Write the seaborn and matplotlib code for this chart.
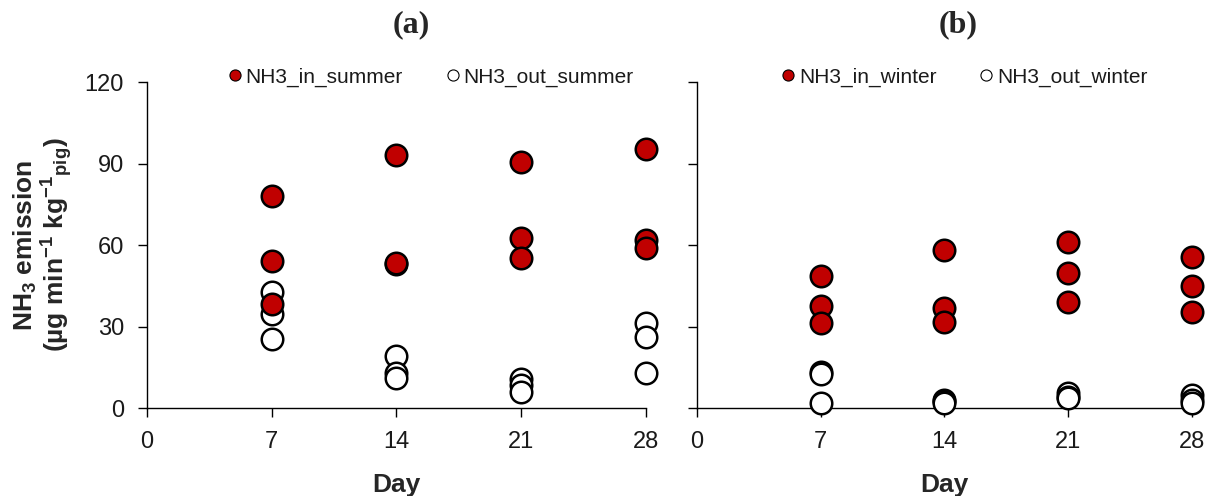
import numpy as np
import pandas as pd
import matplotlib
matplotlib.use("Agg")
import matplotlib.pyplot as plt
import seaborn as sns
from matplotlib.lines import Line2D

sns.set_theme(style="white")
plt.rcParams['font.family'] = ['Liberation Sans', 'DejaVu Sans']
plt.rcParams['mathtext.default'] = 'regular'

days = [7, 14, 21, 28]
# three replicate measurements per day
in_summer = [[78.1, 54.2, 38.5], [93.1, 53.0, 53.5], [90.7, 62.7, 55.1], [95.2, 61.8, 58.8]]
out_summer = [[42.8, 34.8, 25.4], [19.3, 12.8, 11.3], [10.9, 8.5, 6.0], [31.4, 26.2, 13.1]]
in_winter = [[48.6, 37.7, 31.3], [58.2, 36.8, 31.9], [61.1, 49.9, 39.0], [55.5, 45.0, 35.5]]
out_winter = [[13.4, 12.6, 1.8], [2.9, 2.7, 2.1], [5.8, 4.3, 3.7], [5.0, 3.1, 1.9]]

panel_titles = ["(a)", "(b)"]
series_names = [["NH3_in_summer", "NH3_out_summer"], ["NH3_in_winter", "NH3_out_winter"]]
x_ticks = [0, 7, 14, 21, 28]
y_ticks = [0, 30, 60, 90, 120]

def long_form(vals, name):
    rows = []
    for d, reps in zip(days, vals):
        for v in reps:
            rows.append({"Day": d, "value": v, "series": name})
    return rows

RED = "#C00000"
fig = plt.figure(figsize=(12.14, 4.96), dpi=100)
axA = fig.add_axes([147/1214, (496-408.3)/496, (645.7-147)/1214, 326.3/496])
axB = fig.add_axes([697/1214, (496-408.3)/496, (1191.7-697)/1214, 326.3/496])

legend_x = [0.568, 0.539]
panels = [(axA, in_summer, out_summer), (axB, in_winter, out_winter)]
for i, (ax, vin, vout) in enumerate(panels):
    nin, nout = series_names[i]
    df = pd.DataFrame(long_form(vin, nin) + long_form(vout, nout))
    sns.scatterplot(data=df[df.series == nout], x="Day", y="value", ax=ax,
                    s=240, color="white", edgecolor="black", linewidth=1.8,
                    legend=False, zorder=3, clip_on=False)
    sns.scatterplot(data=df[df.series == nin], x="Day", y="value", ax=ax,
                    s=240, color=RED, edgecolor="black", linewidth=1.8,
                    legend=False, zorder=4, clip_on=False)
    ax.set_xlim(0, 28)
    ax.set_ylim(0, 120)
    ax.set_xticks(x_ticks)
    ax.set_yticks(y_ticks)
    for side in ["top", "right"]:
        ax.spines[side].set_visible(False)
    for side in ["left", "bottom"]:
        ax.spines[side].set_color("black")
        ax.spines[side].set_linewidth(1.0)
    ax.tick_params(axis="both", which="major", bottom=True, left=True,
                   direction="out", length=6.5, width=1.0,
                   color="black", labelsize=17, labelcolor="#1a1a1a", pad=10)
    ax.set_xlabel("Day", fontsize=19, fontweight="bold", labelpad=14)
    if i == 1:
        ax.tick_params(axis="y", labelleft=False)
        ax.set_ylabel("")
    else:
        ax.set_ylabel("NH$_3$ emission\n(µg min$^{-1}$ kg$^{-1}$$_{pig}$)",
                      fontsize=19, fontweight="bold", labelpad=7, linespacing=1.0)
    handles = [
        Line2D([], [], marker="o", linestyle="", markersize=8, markerfacecolor=RED,
               markeredgecolor="black", markeredgewidth=0.8, label=nin),
        Line2D([], [], marker="o", linestyle="", markersize=8, markerfacecolor="white",
               markeredgecolor="black", markeredgewidth=0.8, label=nout),
    ]
    ax.legend(handles=handles, loc="center", bbox_to_anchor=(legend_x[i], 1 + 5/326),
              ncol=2, frameon=False, fontsize=15, handletextpad=0.1, columnspacing=2.0,
              handlelength=0.8, labelcolor="#1a1a1a", borderaxespad=0, borderpad=0)

fig.text(411/1214, 1 - 25/496, panel_titles[0], ha="center", va="center",
         fontsize=23, fontweight="bold", family="Liberation Serif")
fig.text(958/1214, 1 - 25/496, panel_titles[1], ha="center", va="center",
         fontsize=23, fontweight="bold", family="Liberation Serif")

fig.savefig("out.png", dpi=100, facecolor="white")
